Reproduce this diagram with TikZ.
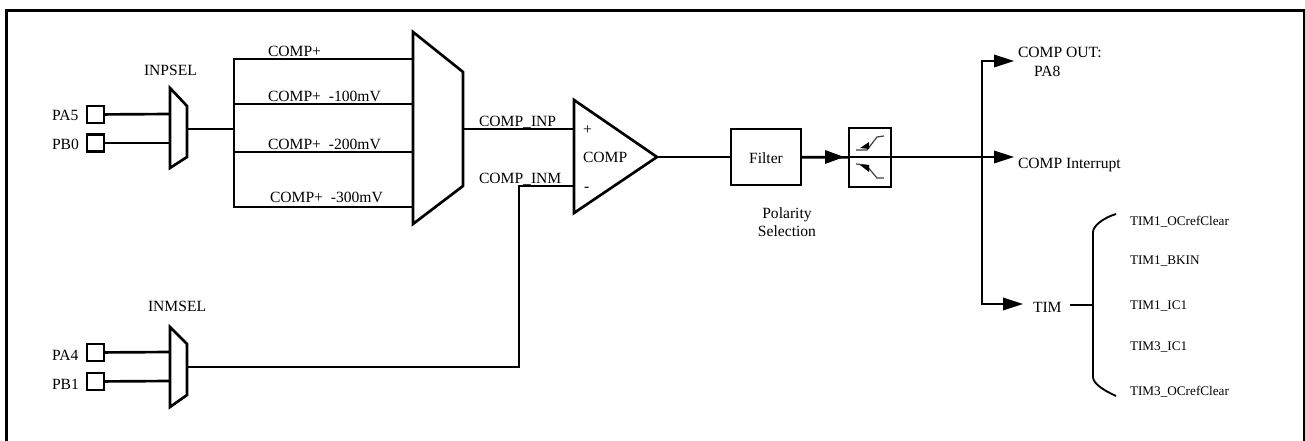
\documentclass[tikz,border=0pt]{standalone}
\usepackage{fontspec}
\setmainfont{Liberation Serif}
\begin{document}
\begin{tikzpicture}[x=0.75pt,y=-0.75pt,
  frame/.style={draw=black,line width=2.25pt},
  wire/.style={draw=black,line width=2pt},
  thinwire/.style={draw=black,line width=1.3pt},
  shapeline/.style={draw=black,fill=white,line width=2pt,line join=miter},
  pin/.style={draw=black,fill=white,line width=2pt,minimum width=12.75pt,minimum height=12.75pt,inner sep=0pt,outer sep=0pt},
  box/.style={draw=black,fill=white,line width=1.2pt,inner sep=0pt,outer sep=0pt},
  lbl/.style={font=\fontsize{11.7}{14}\selectfont,inner sep=0pt,outer sep=0pt,text=black},
  tlbl/.style={font=\fontsize{9.9}{12}\selectfont,inner sep=0pt,outer sep=0pt,text=black},
  head/.style={fill=black,draw=none}
]
\useasboundingbox (0,0) rectangle (1305,441);
\clip (0,0) rectangle (1305,441);
\draw[frame] (6.5,10.5) rectangle (1304,448);

\node[pin] (pa5) at (95.5,114.5) {};
\node[pin] (pb0) at (95.5,143) {};
\node[pin] (pa4) at (95.5,352.5) {};
\node[pin] (pb1) at (95.5,381.5) {};
\coordinate (isel1) at (170,114);
\coordinate (isel2) at (170,143);
\coordinate (msel1) at (170,352);
\coordinate (msel2) at (170,381);
\draw[wire] (pa5) -- (isel1);
\draw[wire] (pb0) -- (isel2);
\draw[wire] (pa4) -- (msel1);
\draw[wire] (pb1) -- (msel2);

\coordinate (iselout) at (187,129);
\coordinate (busjoin) at (234,129);
\coordinate (bustop) at (234,59);
\coordinate (busbot) at (234,207);
\coordinate (bus2) at (234,104);
\coordinate (bus3) at (234,152);
\coordinate (m1) at (413,59);
\coordinate (m2) at (413,104);
\coordinate (m3) at (413,152);
\coordinate (m4) at (413,207);
\draw[wire] (iselout) -- (busjoin);
\draw[wire,line cap=square] (m1) -- (bustop) -- (busbot) -- (m4);
\draw[wire] (bus2) -- (m2);
\draw[wire] (bus3) -- (m3);

\draw[shapeline] (170,88) -- (187,106) -- (187,157) -- (170,168) -- cycle;
\draw[shapeline] (170,327) -- (187,344) -- (187,395) -- (170,407) -- cycle;
\draw[shapeline] (413,32) -- (463,72) -- (463,186) -- (413,224) -- cycle;

\coordinate (bigout) at (463,129);
\coordinate (cinp) at (574,129);
\coordinate (cinm) at (574,186);
\coordinate (mselout) at (187,367);
\coordinate (corner1) at (519,367);
\coordinate (corner2) at (519,186);
\draw[wire] (bigout) -- (cinp);
\draw[wire,line join=miter] (mselout) -- (corner1) -- (corner2) -- (cinm);
\draw[shapeline] (574,100) -- (657,157) -- (574,213) -- cycle;
\coordinate (ctip) at (657,157);

\node[box,minimum width=52.5pt,minimum height=42pt] (filter) at (766,157) {};
\node[lbl] (filtertxt) at (766,158.5) {Filter};
\node[box,minimum width=31.5pt,minimum height=44.25pt] (pol) at (870,157.5) {};
\draw[wire] (ctip) -- (filter);
\draw[wire] (filter) -- (pol);
\coordinate (polin) at (849,157);
\coordinate (intr) at (1000,157);
\coordinate (outtop) at (982,61);
\coordinate (outbot) at (982,304);
\coordinate (top2) at (1000,61);
\coordinate (bot2) at (1010,304);
\draw[thinwire] (polin) -- (intr);
\draw[thinwire,line join=miter] (top2) -- (outtop) -- (outbot) -- (bot2);

\draw[draw=black!75,line width=0.9pt] (856,150) -- (867,150) -- (877,137) -- (884,136);
\draw[draw=black!75,line width=0.9pt] (856,164) -- (866,165) -- (877,178) -- (884,178);
\fill[head] (860,148) -- (869,142) -- (869,149) -- cycle;
\fill[head] (860,165) -- (869,165) -- (869,172) -- cycle;

\fill[head] (825,150) -- (844,157) -- (825,164) -- cycle;
\fill[head] (994,54.5) -- (1014,61) -- (994,67.5) -- cycle;
\fill[head] (994,150.5) -- (1014,157) -- (994,163.5) -- cycle;
\fill[head] (1003,297.5) -- (1023,304) -- (1003,310.5) -- cycle;

\coordinate (timline) at (1070,305);
\coordinate (brmid) at (1093,305);
\draw[wire] (timline) -- (brmid);
\draw[thinwire,line width=1.4pt] (1116,214) .. controls (1103,218) and (1093,226) .. (1093,232) -- (1093,377) .. controls (1093,384) and (1105,391) .. (1116,396);

\node[lbl,anchor=base west] (lpa5) at (52,121) {PA5};
\node[lbl,anchor=base west] (lpb0) at (52,150) {PB0};
\node[lbl,anchor=base west] (lpa4) at (52,360) {PA4};
\node[lbl,anchor=base west] (lpb1) at (52,389) {PB1};
\node[lbl,anchor=base west] (linpsel) at (144,76) {INPSEL};
\node[lbl,anchor=base west] (linmsel) at (148,311) {INMSEL};
\node[lbl,anchor=base west] (lc0) at (268,57) {COMP+};
\node[lbl,anchor=base west] (lc1) at (268,102) {COMP+\ \ -100mV};
\node[lbl,anchor=base west] (lc2) at (268,150) {COMP+\ \ -200mV};
\node[lbl,anchor=base west] (lc3) at (270,203) {COMP+\ \ -300mV};
\node[lbl,anchor=base west] (linp) at (479,127) {COMP\_INP};
\node[lbl,anchor=base west] (linm) at (479,184) {COMP\_INM};
\node[lbl,anchor=base west] (lplus) at (583,135) {+};
\node[lbl,anchor=base west] (lminus) at (584,192) {-};
\node[lbl,anchor=base west] (lcomp) at (583,163) {COMP};
\node[lbl,align=center] (lpol) at (787,222) {Polarity\\Selection};
\node[lbl,anchor=base west] (lout) at (1018,58) {COMP OUT:};
\node[lbl,anchor=base west] (lpa8) at (1034,77) {PA8};
\node[lbl,anchor=base west] (lint) at (1018,169) {COMP Interrupt};
\node[lbl,anchor=base west] (ltim) at (1033,312) {TIM};
\node[tlbl,anchor=base west] (t1) at (1130,226) {TIM1\_OCrefClear};
\node[tlbl,anchor=base west] (t2) at (1130,265) {TIM1\_BKIN};
\node[tlbl,anchor=base west] (t3) at (1130,310) {TIM1\_IC1};
\node[tlbl,anchor=base west] (t4) at (1130,350) {TIM3\_IC1};
\node[tlbl,anchor=base west] (t5) at (1130,395) {TIM3\_OCrefClear};
\end{tikzpicture}
\end{document}
